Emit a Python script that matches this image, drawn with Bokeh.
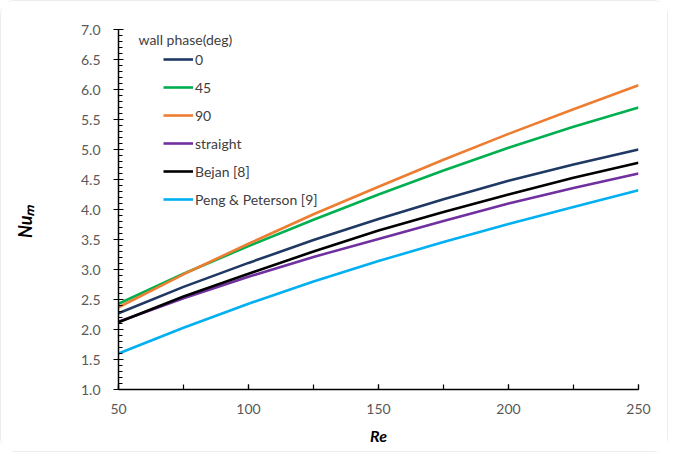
from bokeh.plotting import figure
from bokeh.models import SingleIntervalTicker, Legend, LegendItem, Label, Range1d, NumeralTickFormatter
from bokeh.embed import file_html
from bokeh.resources import INLINE

re_vals = [50, 75, 100, 125, 150, 175, 200, 225, 250]
phase_0 = [2.27, 2.71, 3.11, 3.49, 3.84, 4.17, 4.48, 4.75, 5.00]
phase_45 = [2.43, 2.93, 3.39, 3.83, 4.25, 4.65, 5.03, 5.38, 5.70]
phase_90 = [2.37, 2.92, 3.43, 3.92, 4.38, 4.83, 5.26, 5.67, 6.07]
straight = [2.13, 2.52, 2.88, 3.21, 3.51, 3.81, 4.10, 4.36, 4.60]
bejan = [2.12, 2.55, 2.93, 3.30, 3.65, 3.96, 4.25, 4.53, 4.78]
peng = [1.60, 2.03, 2.43, 2.80, 3.14, 3.46, 3.76, 4.04, 4.32]

series_names = ["0", "45", "90", "straight", "Bejan [8]", "Peng & Peterson [9]"]
series_vals = [phase_0, phase_45, phase_90, straight, bejan, peng]
colors = ["#1f3864", "#00b050", "#ed7d31", "#7030a0", "#000000", "#00b0f0"]

W, H = 668, 452
FL, FB = 117, 388  # frame left / bottom on the page
p = figure(width=W, height=H, output_backend="svg", toolbar_location=None,
           x_range=Range1d(50, 250), y_range=Range1d(1.0, 7.0),
           min_border_left=117, min_border_right=31, min_border_top=28, min_border_bottom=64)
p.styles = {"border": "1px solid #ececec", "border-radius": "14px"}
p.outline_line_color = None
p.xgrid.visible = False
p.ygrid.visible = False

renderers = []
for name, vals, c in zip(series_names, series_vals, colors):
    renderers.append(p.line(re_vals, vals, line_color=c, line_width=2.6))
items = [LegendItem(label=n, renderers=[r]) for n, r in zip(series_names, renderers)]

legend = Legend(items=items, location=(45, 180), padding=0, margin=0,
                border_line_color=None, background_fill_alpha=0,
                glyph_width=30, glyph_height=20, label_height=20, spacing=8,
                label_standoff=2, label_text_font="Lato", label_text_font_size="14px",
                label_text_color="#404040")
p.add_layout(legend)

p.xaxis.ticker = SingleIntervalTicker(interval=50, num_minor_ticks=2)
p.yaxis.ticker = SingleIntervalTicker(interval=0.5, num_minor_ticks=5)
p.yaxis.formatter = NumeralTickFormatter(format="0.0")

for ax in (p.xaxis[0], p.yaxis[0]):
    ax.axis_line_color = "#000000"
    ax.axis_line_width = 1.5
    ax.major_tick_line_color = "#000000"
    ax.minor_tick_line_color = "#000000"
    ax.major_tick_line_width = 1.2
    ax.minor_tick_line_width = 1.2
    ax.major_label_text_font = "Lato"
    ax.major_label_text_font_size = "14px"
    ax.major_label_text_color = "#595959"

p.xaxis.major_tick_in = 5
p.xaxis.major_tick_out = 0
p.xaxis.minor_tick_in = 5
p.xaxis.minor_tick_out = 0
p.xaxis.major_label_standoff = 14

p.yaxis.major_tick_in = 5
p.yaxis.major_tick_out = 5
p.yaxis.minor_tick_in = 4
p.yaxis.minor_tick_out = 0
p.yaxis.major_label_standoff = 13

p.xaxis.axis_label = "Re"
p.xaxis.axis_label_text_font = "Lato"
p.xaxis.axis_label_text_font_style = "bold italic"
p.xaxis.axis_label_text_font_size = "16px"
p.xaxis.axis_label_text_color = "#000000"
p.xaxis.axis_label_standoff = 9

p.yaxis.axis_label = "Nu\u2098" + "\u00a0" * 6
p.yaxis.axis_label_text_font = "Lato"
p.yaxis.axis_label_text_font_style = "bold italic"
p.yaxis.axis_label_text_font_size = "18px"
p.yaxis.axis_label_text_color = "#000000"
p.yaxis.axis_label_standoff = 42

p.add_layout(Label(x=137 - FL, y=FB - 29, x_units="screen", y_units="screen",
                   text="wall phase(deg)", text_font="Lato",
                   text_font_size="14px", text_align="left", text_baseline="top",
                   text_color="#404040"))

open("out.html", "w").write(file_html(p, INLINE))
